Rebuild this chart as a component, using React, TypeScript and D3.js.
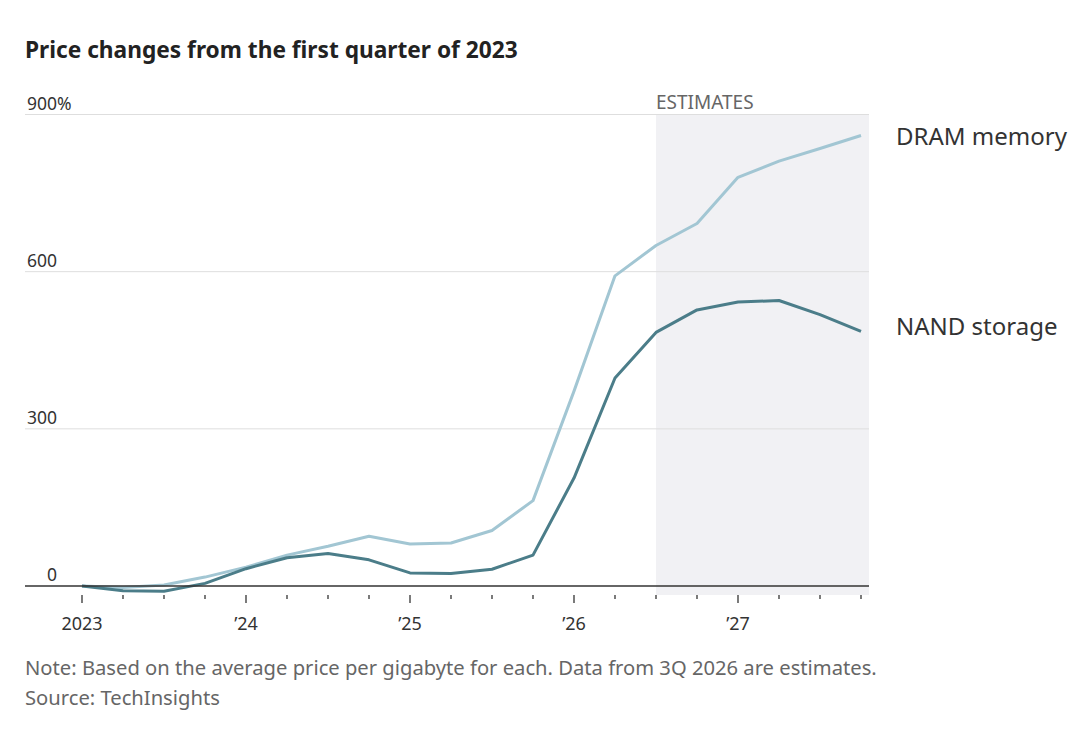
import React from "react";
import * as d3 from "d3";

// Quarterly price change vs. 1Q 2023, in percent
const quarters = [
  "1Q23", "2Q23", "3Q23", "4Q23",
  "1Q24", "2Q24", "3Q24", "4Q24",
  "1Q25", "2Q25", "3Q25", "4Q25",
  "1Q26", "2Q26", "3Q26", "4Q26",
  "1Q27", "2Q27", "3Q27", "4Q27",
];
const dramValues = [0, -3, 2, 17, 36, 59, 76, 95, 80, 82, 106, 163, 372, 592, 650, 692, 780, 811, 835, 860];
const nandValues = [0, -9, -10, 5, 33, 54, 62, 50, 25, 24, 32, 59, 206, 397, 484, 527, 542, 545, 518, 486];

const yTicks = [0, 300, 600, 900];
const yearLabels = [
  { index: 0, label: "2023" },
  { index: 4, label: "\u201924" },
  { index: 8, label: "\u201925" },
  { index: 12, label: "\u201926" },
  { index: 16, label: "\u201927" },
];
const estimateStart = 14; // 3Q 2026 onward

const title = "Price changes from the first quarter of 2023";
const note = "Note: Based on the average price per gigabyte for each. Data from 3Q 2026 are estimates.";
const source = "Source: TechInsights";

const FONT = "'Noto Sans', Lato, sans-serif";
const DRAM_COLOR = "#a2c6d3";
const NAND_COLOR = "#4b7d89";

export default function App() {
  const width = 1080;
  const height = 729;
  const x = d3.scaleLinear().domain([0, quarters.length - 1]).range([82, 861]);
  const y = d3.scaleLinear().domain([0, 900]).range([586, 114.5]);
  const gridLeft = 25;
  const gridRight = 869;

  const line = d3
    .line<number>()
    .x((_, i) => x(i))
    .y((d) => y(d));

  return (
    <svg
      width={width}
      height={height}
      style={{ position: "absolute", left: 0, top: 0, background: "#fff" }}
      fontFamily={FONT}
    >
      <text x={25} y={58} fontSize={22.7} fontWeight={700} fill="#222">
        {title}
      </text>

      {/* estimates shading */}
      <rect
        x={x(estimateStart)}
        y={y(900)}
        width={gridRight - x(estimateStart)}
        height={y(0) - y(900) + 9}
        fill="#f1f1f4"
      />
      <text x={x(estimateStart)} y={109} fontSize={19} fill="#666">
        ESTIMATES
      </text>

      {/* gridlines and value labels */}
      {yTicks.map((t) => (
        <g key={t}>
          {t !== 0 && (
            <line x1={gridLeft} x2={gridRight} y1={y(t)} y2={y(t)} stroke="#dedede" strokeWidth={1} />
          )}
          <text x={57} y={y(t) - 5} fontSize={17.5} fill="#333" textAnchor="end">
            {t}
          </text>
          {t === 900 && (
            <text x={57} y={y(t) - 5} fontSize={17.5} fill="#333">
              %
            </text>
          )}
        </g>
      ))}

      {/* quarter ticks */}
      {quarters.map((q, i) => {
        const isYear = i % 4 === 0;
        return (
          <line
            key={q}
            x1={x(i)}
            x2={x(i)}
            y1={595}
            y2={isYear ? 603 : 599}
            stroke="#333"
            strokeWidth={1.3}
          />
        );
      })}
      {yearLabels.map((d) => (
        <text key={d.label} x={x(d.index)} y={630} fontSize={18} fill="#333" textAnchor="middle">
          {d.label}
        </text>
      ))}

      {/* series */}
      <path d={line(dramValues) ?? ""} fill="none" stroke={DRAM_COLOR} strokeWidth={3} strokeLinejoin="round" />
      <path d={line(nandValues) ?? ""} fill="none" stroke={NAND_COLOR} strokeWidth={3} strokeLinejoin="round" />

      {/* zero baseline */}
      <line x1={gridLeft} x2={gridRight} y1={y(0)} y2={y(0)} stroke="#333" strokeWidth={1.5} />

      <text x={896} y={145} fontSize={24} fill="#333">
        DRAM memory
      </text>
      <text x={896} y={335} fontSize={24} fill="#333">
        NAND storage
      </text>

      <text x={25} y={675} fontSize={20.2} fill="#666">
        {note}
      </text>
      <text x={25} y={705} fontSize={20.2} fill="#666">
        {source}
      </text>
    </svg>
  );
}
